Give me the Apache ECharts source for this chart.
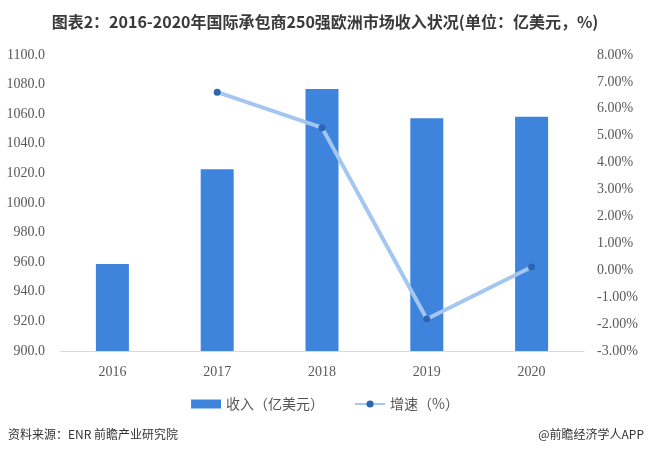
<!DOCTYPE html>
<html>
<head>
<meta charset="utf-8">
<script src="https://cdn.jsdelivr.net/npm/echarts@6/dist/echarts.min.js"></script>
<style>
html,body{margin:0;padding:0;background:#fff;}
#c{width:650px;height:454px;}
</style>
</head>
<body>
<div id="c"></div>
<script>
const categories = ['2016', '2017', '2018', '2019', '2020'];
const revenue = [958.8, 1022.8, 1077, 1057.3, 1058.3];
const growth = [null, 6.62, 5.30, -1.81, 0.12];
const leftTicks = { min: 900, max: 1100, interval: 20 };
const rightTicks = { min: -3, max: 8, interval: 1 };
const title = '图表2：2016-2020年国际承包商250强欧洲市场收入状况(单位：亿美元，%)';
const seriesNames = ['收入（亿美元）', '增速（%）'];
const sourceText = '资料来源：ENR 前瞻产业研究院';
const brandText = '@前瞻经济学人APP';

const chart = echarts.init(document.getElementById('c'));
const serif = '"Liberation Serif", "DejaVu Serif", serif';
chart.setOption({
  animation: false,
  backgroundColor: '#fff',
  title: {
    text: title,
    left: 'center',
    top: 9,
    textStyle: { fontSize: 16, fontWeight: 'bold', color: '#3a3a3a', fontFamily: '"Noto Sans CJK SC", sans-serif' }
  },
  graphic: [
    { type: 'text', left: 8, top: 428, style: { text: sourceText, fontSize: 12, fill: '#333', fontFamily: '"Noto Sans CJK SC", sans-serif' } },
    { type: 'text', right: 6, top: 428, style: { text: brandText, fontSize: 12, fill: '#333', fontFamily: '"Noto Sans CJK SC", sans-serif' } }
  ],
  legend: {
    bottom: 38,
    left: 'center',
    itemGap: 30,
    itemWidth: 30,
    itemHeight: 9,
    textStyle: { fontSize: 14, color: '#555', fontFamily: '"Noto Sans CJK SC", sans-serif' },
    data: [
      { name: seriesNames[0], icon: 'rect' },
      { name: seriesNames[1] }
    ]
  },
  grid: { left: 60, right: 66, top: 55, bottom: 103 },
  xAxis: {
    type: 'category',
    data: categories,
    axisLine: { onZero: false, lineStyle: { color: '#d9d9d9' } },
    axisTick: { show: false },
    axisLabel: { color: '#595959', fontSize: 14, fontFamily: serif, margin: 14 }
  },
  yAxis: [
    {
      type: 'value',
      min: leftTicks.min, max: leftTicks.max, interval: leftTicks.interval,
      splitLine: { show: false },
      axisLine: { show: false },
      axisTick: { show: false },
      axisLabel: { color: '#595959', fontSize: 14, fontFamily: serif, margin: 15, formatter: v => v.toFixed(1) }
    },
    {
      type: 'value',
      min: rightTicks.min, max: rightTicks.max, interval: rightTicks.interval,
      splitLine: { show: false },
      axisLine: { show: false },
      axisTick: { show: false },
      axisLabel: { color: '#595959', fontSize: 14, fontFamily: serif, margin: 13, formatter: v => v.toFixed(2) + '%' }
    }
  ],
  series: [
    {
      name: seriesNames[0],
      type: 'bar',
      data: revenue,
      barWidth: 33,
      itemStyle: { color: '#3F84DC' }
    },
    {
      name: seriesNames[1],
      type: 'line',
      yAxisIndex: 1,
      data: growth,
      symbol: 'circle',
      symbolSize: 7,
      lineStyle: { color: '#A4C6F0', width: 4 },
      itemStyle: { color: '#2D64B4' }
    }
  ]
});
</script>
</body>
</html>
